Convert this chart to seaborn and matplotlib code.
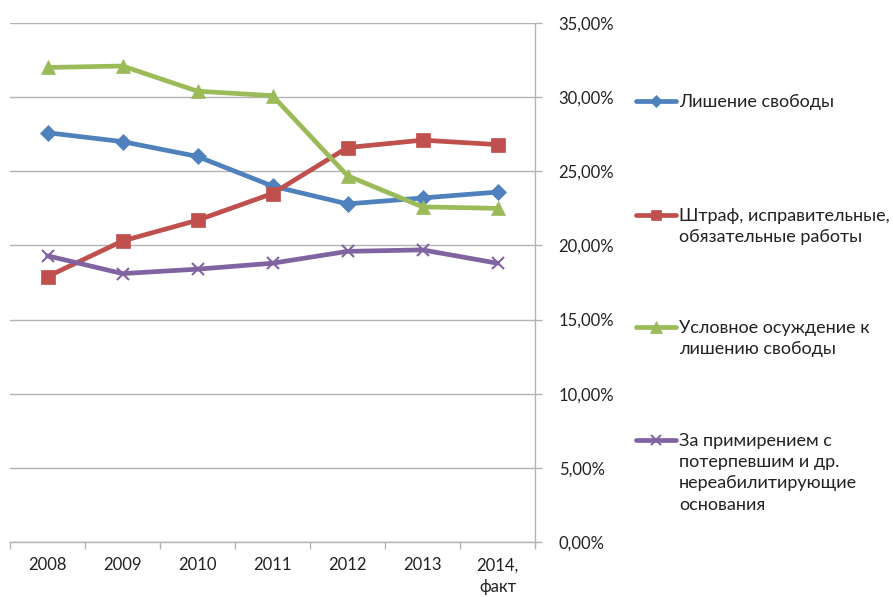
import numpy as np
import matplotlib
matplotlib.use("Agg")
import matplotlib.pyplot as plt
from matplotlib.lines import Line2D
from matplotlib.ticker import FixedLocator, FuncFormatter
import seaborn as sns

# values (percent of sentences)
years = ["2008", "2009", "2010", "2011", "2012", "2013", "2014,\nфакт"]
prison = [27.6, 27.0, 26.0, 24.0, 22.8, 23.2, 23.6]
fines = [17.9, 20.3, 21.7, 23.5, 26.6, 27.1, 26.8]
probation = [32.0, 32.1, 30.4, 30.1, 24.7, 22.6, 22.5]
reconciliation = [19.3, 18.1, 18.4, 18.8, 19.6, 19.7, 18.8]

labels = [
    "Лишение свободы",
    "Штраф, исправительные,\nобязательные работы",
    "Условное осуждение к\nлишению свободы",
    "За примирением с\nпотерпевшим и др.\nнереабилитирующие\nоснования",
]
series = [prison, fines, probation, reconciliation]
colors = ["#4F81BD", "#C0504D", "#9BBB59", "#8064A2"]
markers = ["D", "s", "^", "x"]
msizes = [8, 9.5, 10, 9]

sns.set_theme(style="white")
plt.rcParams["font.family"] = ["Lato", "DejaVu Sans"]

fig = plt.figure(figsize=(8.93, 5.97), dpi=100)
ax = fig.add_axes([10 / 893, 1 - 542 / 597, 525 / 893, 519 / 597])

x = np.arange(len(years))
for vals, c, m, ms in zip(series, colors, markers, msizes):
    sns.lineplot(x=x, y=vals, ax=ax, color=c, marker=m, markersize=ms,
                 markeredgecolor=c, markerfacecolor=c,
                 markeredgewidth=1.5 if m == "x" else 0.5, linewidth=3.4)

grid_c = "#B3B3B3"
ax.set_xlim(-0.5, len(years) - 0.5)
ax.set_ylim(0, 35)
ax.yaxis.set_major_locator(FixedLocator(np.arange(0, 36, 5)))
ax.yaxis.set_major_formatter(FuncFormatter(lambda v, p: f"{v:.2f}%".replace(".", ",")))
ax.yaxis.tick_right()
ax.grid(axis="y", color=grid_c, linewidth=1)
ax.set_axisbelow(True)

# category boundaries get the tick marks, labels sit in the middle
ax.xaxis.set_major_locator(FixedLocator(np.arange(-0.5, len(years), 1.0)))
ax.xaxis.set_major_formatter(FuncFormatter(lambda v, p: ""))
ax.set_xticks(x, years, minor=True)
ax.tick_params(axis="x", which="major", bottom=True, length=5, color=grid_c, width=1)
ax.tick_params(axis="x", which="minor", bottom=True, length=0, pad=11,
               labelsize=12, labelcolor="#222222")
for t in ax.get_xticklabels(minor=True):
    t.set_linespacing(1.45)
ax.tick_params(axis="y", right=True, left=False, length=5, color=grid_c, width=1,
               pad=12, labelsize=12, labelcolor="#222222")

for side in ["top", "left"]:
    ax.spines[side].set_visible(False)
for side in ["bottom", "right"]:
    ax.spines[side].set_color(grid_c)
    ax.spines[side].set_linewidth(1)
ax.set_xlabel("")
ax.set_ylabel("")

# legend drawn by hand so the key lines up with the first text line (like Excel)
leg_y = [101, 215, 327, 440]
for lab, c, m, ms, yy in zip(labels, colors, markers, msizes, leg_y):
    yf = 1 - yy / 597
    fig.add_artist(Line2D([636 / 893, 656 / 893, 676 / 893], [yf, yf, yf],
                          transform=fig.transFigure, color=c, linewidth=3.4,
                          marker=m, markevery=[1], markersize=ms * 0.8,
                          markeredgecolor=c, markerfacecolor=c,
                          markeredgewidth=1.5 if m == "x" else 0.5))
    fig.text(679 / 893, yf + 7 / 597, lab, ha="left", va="top", fontsize=13,
             color="#222222", linespacing=1.4)

fig.savefig("out.png", dpi=100)
